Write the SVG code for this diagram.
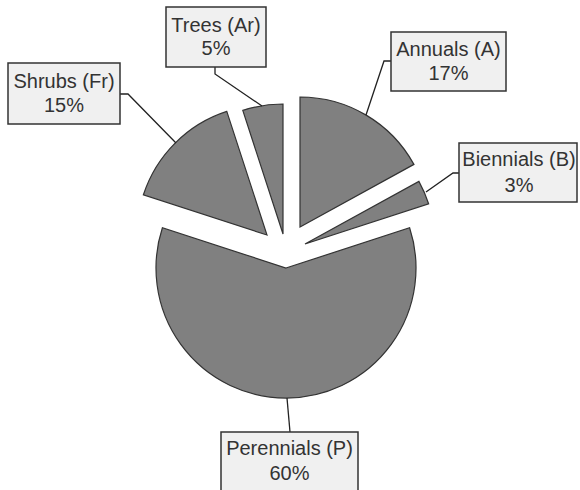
<svg xmlns="http://www.w3.org/2000/svg" width="580" height="490" viewBox="0 0 580 490">
<style>
.slice{fill:#808080;stroke:#333;stroke-width:1.2;stroke-linejoin:miter}
.box{fill:#f0f0f0;stroke:#333;stroke-width:1.5}
.lbl{font-family:"Liberation Sans",Arial,sans-serif;font-size:20px;fill:#333;text-anchor:middle}
.lead{fill:none;stroke:#222;stroke-width:1.3}
</style>
<rect width="580" height="490" fill="#fff"/>
<g id="slices">
<path id="annuals-slice" class="slice" d="M300,227 L300,97 A130,130 0 0 1 413.9,164.4 Z"/>
<path id="biennials-slice" class="slice" d="M305,244 L418.9,181.4 A130,130 0 0 1 428.6,203.8 Z"/>
<path id="perennials-slice" class="slice" d="M286,268 L409.6,227.8 A130,130 0 1 1 162.4,227.8 Z"/>
<path id="shrubs-slice" class="slice" d="M267,235 L143.4,194.8 A130,130 0 0 1 226.8,111.4 Z"/>
<path id="trees-slice" class="slice" d="M283,234 L242.8,110.4 A130,130 0 0 1 283,104 Z"/>
</g>
<g id="connectors">
<polyline class="lead" points="215,67 215,74 262,106"/>
<polyline class="lead" points="120,94 128,94 176,143"/>
<polyline class="lead" points="391,61 384,61 366,115"/>
<polyline class="lead" points="459,173 453,173 426,192"/>
<polyline class="lead" points="290,432 287,398"/>
</g>
<g id="trees">
<rect class="box" x="166" y="7" width="100" height="60"/>
<text class="lbl" x="216" y="32">Trees (Ar)</text>
<text class="lbl" x="216" y="55">5%</text>
</g>
<g id="shrubs">
<rect class="box" x="8" y="63" width="112" height="61"/>
<text class="lbl" x="64" y="88">Shrubs (Fr)</text>
<text class="lbl" x="64" y="112">15%</text>
</g>
<g id="annuals">
<rect class="box" x="391" y="32" width="115" height="59"/>
<text class="lbl" x="448.5" y="56">Annuals (A)</text>
<text class="lbl" x="448.5" y="80">17%</text>
</g>
<g id="biennials">
<rect class="box" x="459" y="143" width="118" height="59"/>
<text class="lbl" x="519" y="166">Biennials (B)</text>
<text class="lbl" x="519" y="192">3%</text>
</g>
<g id="perennials">
<rect class="box" x="221" y="432" width="137" height="62"/>
<text class="lbl" x="289.5" y="455">Perennials (P)</text>
<text class="lbl" x="289.5" y="480">60%</text>
</g>
</svg>
